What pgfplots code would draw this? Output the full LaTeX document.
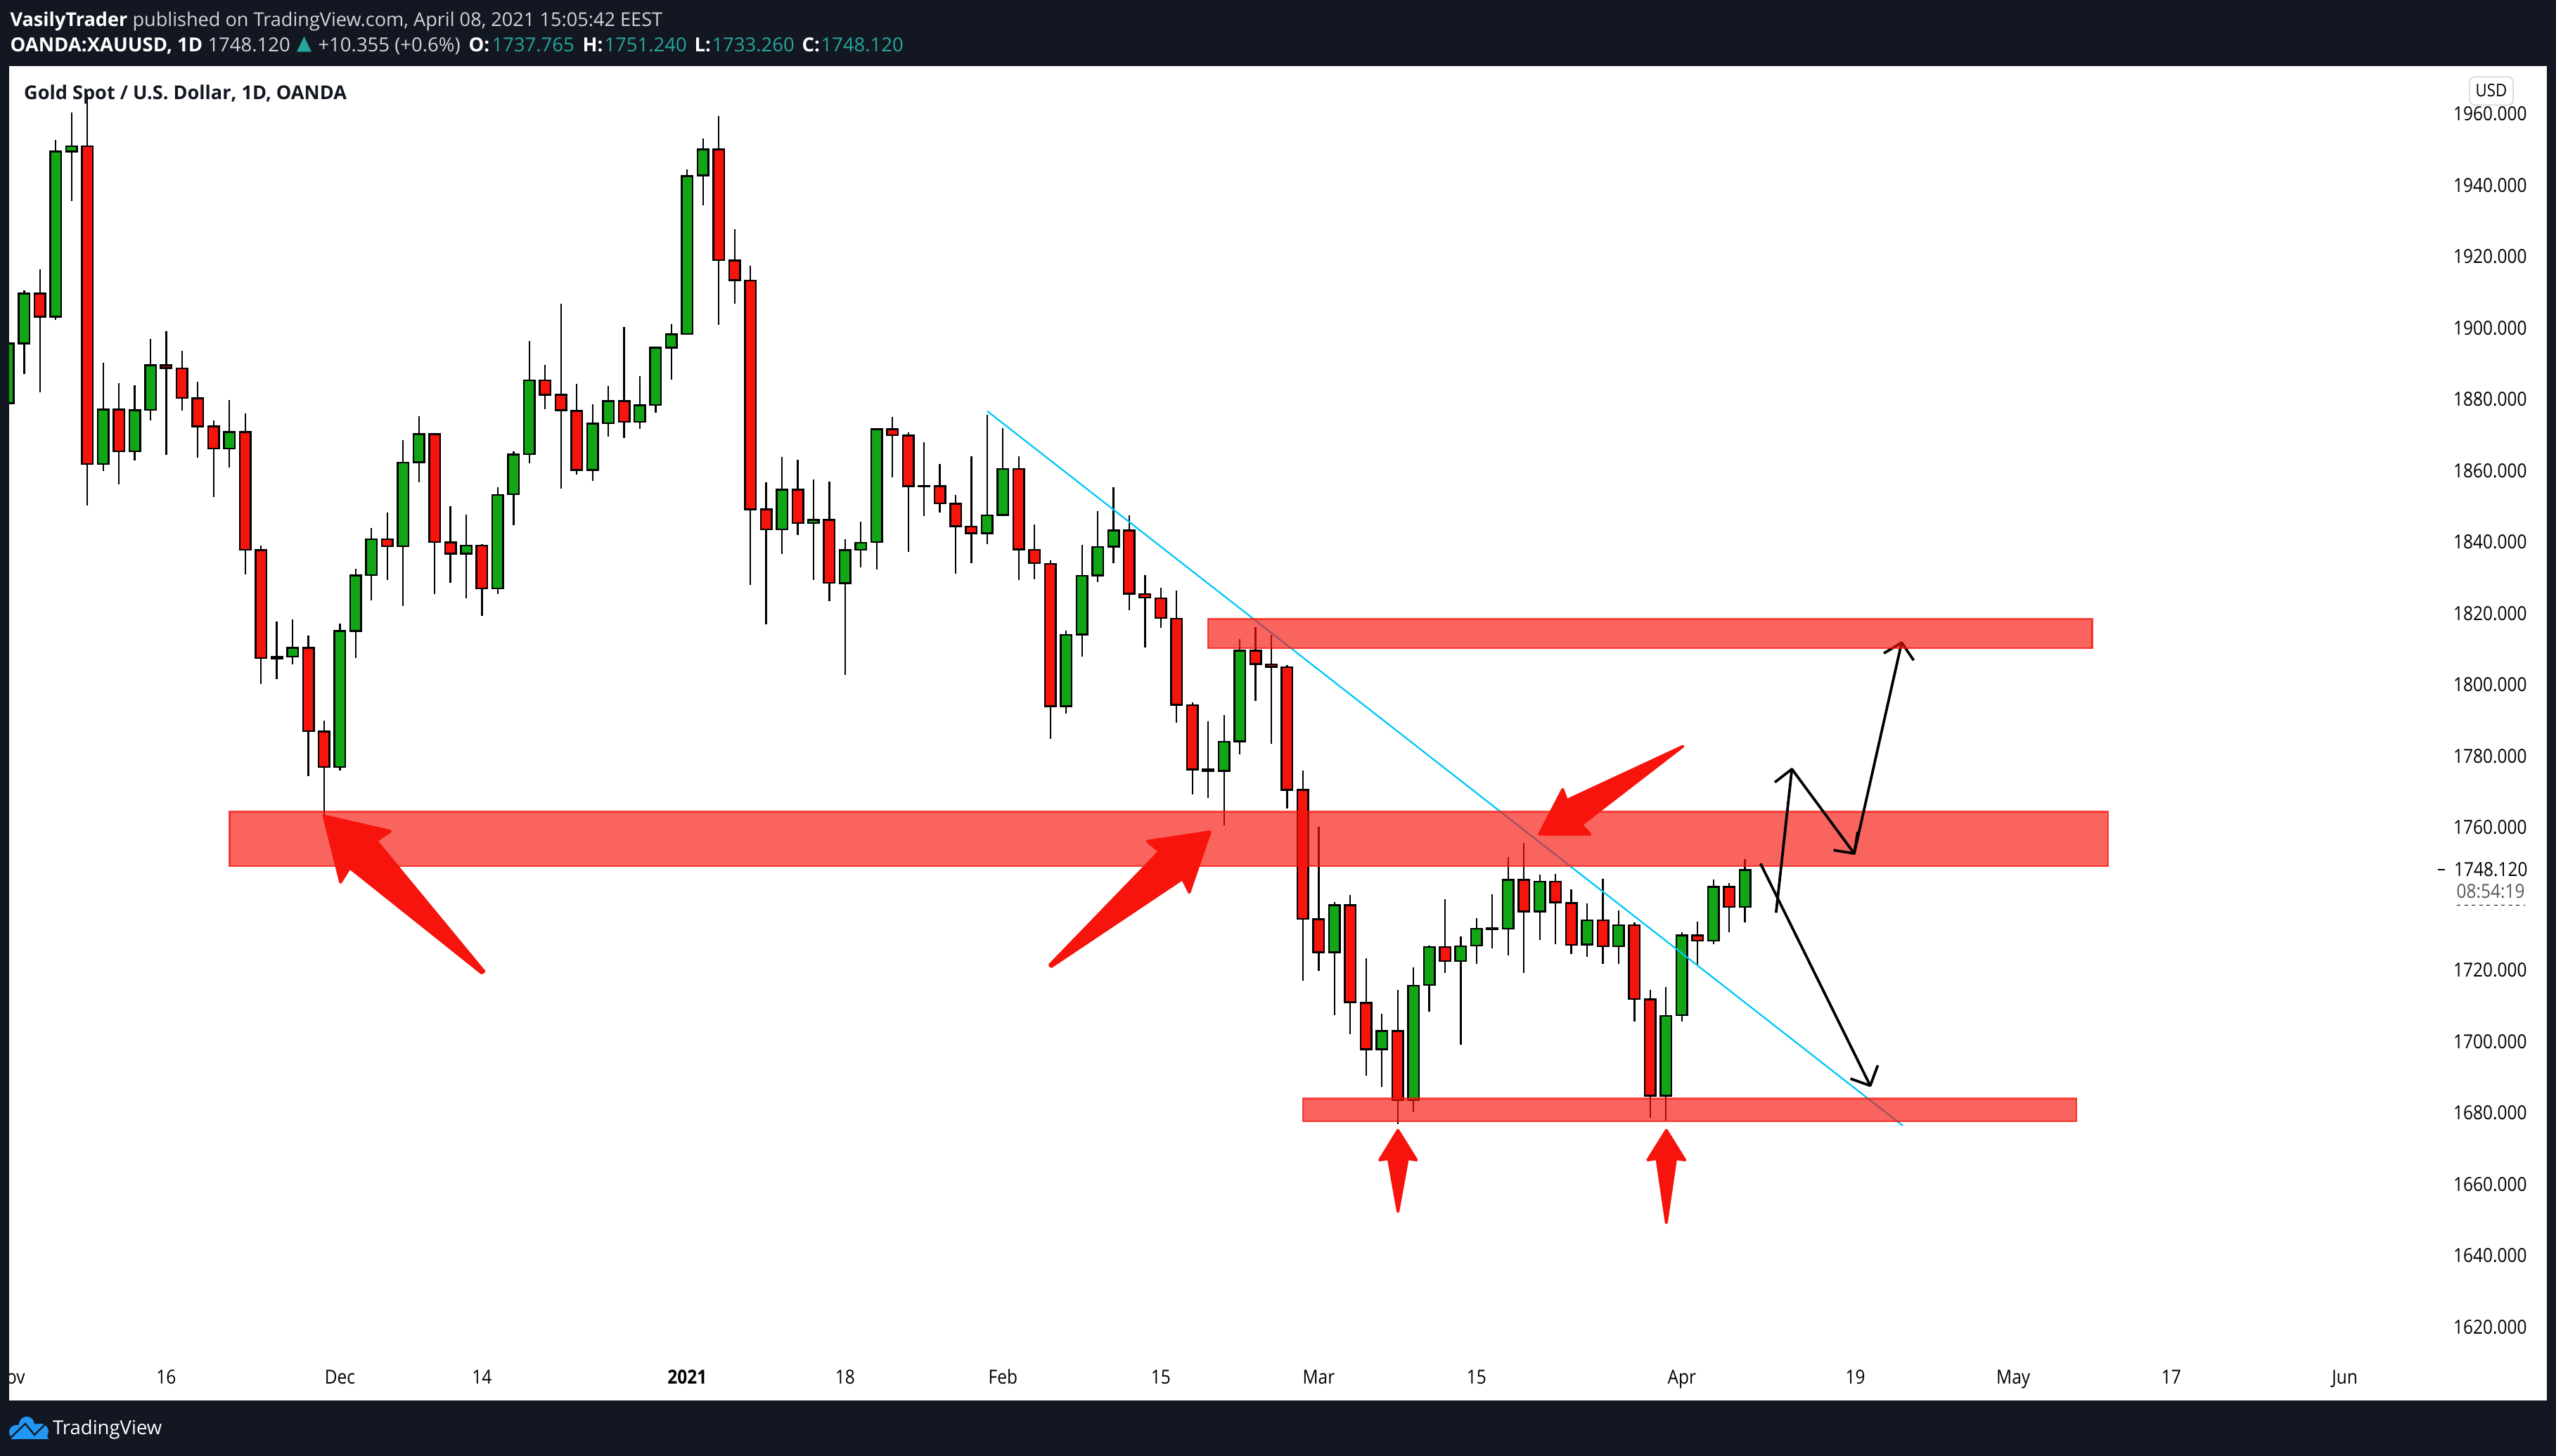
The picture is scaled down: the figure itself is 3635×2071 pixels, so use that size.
\documentclass[border=0pt]{standalone}
\usepackage{fontspec}
\setmainfont{Open Sans}
\newfontfamily\tvfont[FakeStretch=0.89]{Open Sans}
\usepackage{pgfplots}
\usepackage{pgfplotstable}
\pgfplotsset{compat=1.18}
\definecolor{tvnavy}{HTML}{131722}
\definecolor{tvgreen}{HTML}{12A516}
\definecolor{tvred}{HTML}{F6140C}
\definecolor{tvgrey}{HTML}{D1D4DC}
\definecolor{tvteal}{HTML}{26A69A}
\definecolor{tvcyan}{HTML}{00C8F8}
\definecolor{tvblue}{HTML}{2196F3}
\tikzset{px/.style={x=0.4pt,y=-0.4pt,shift={(-5.2pt,796.8pt)}}}
% columns: candle index, body top, body bottom, high, low
\pgfplotstableread{
i top bot high low
-1 1895.7 1878.9 1896.5 1875.0
0 1909.6 1895.7 1910.5 1887.0
2 1949.4 1903.1 1952.7 1902.2
3 1950.9 1949.5 1960.4 1935.6
5 1877.1 1861.9 1890.3 1859.9
7 1876.9 1865.4 1883.9 1862.8
8 1889.5 1877.0 1896.9 1874.1
13 1870.8 1866.2 1879.8 1860.8
17 1810.3 1807.9 1818.4 1805.8
20 1815.1 1776.9 1817.2 1775.9
21 1830.6 1815.1 1832.5 1807.4
22 1840.8 1830.7 1844.0 1823.7
24 1862.3 1838.8 1868.6 1822.1
25 1870.2 1862.4 1875.3 1856.8
28 1839.0 1836.7 1847.7 1824.2
30 1853.2 1827.0 1855.4 1825.5
31 1864.5 1853.4 1865.5 1844.8
32 1885.3 1864.6 1896.4 1862.0
36 1873.2 1860.2 1878.6 1857.1
37 1879.5 1873.3 1883.7 1869.5
39 1878.3 1873.7 1886.5 1871.8
40 1894.5 1878.4 1894.7 1876.2
41 1898.2 1894.5 1901.0 1885.5
42 1942.6 1898.3 1944.4 1898.2
43 1950.0 1942.8 1953.1 1934.3
48 1854.7 1843.5 1863.8 1836.7
50 1846.2 1845.3 1857.5 1829.4
52 1837.7 1828.5 1840.7 1802.8
53 1839.8 1837.8 1845.7 1832.9
54 1871.6 1840.0 1871.8 1832.4
61 1847.5 1842.5 1875.6 1839.4
62 1860.5 1847.6 1871.9 1847.6
66 1814.0 1794.0 1815.1 1791.9
67 1830.5 1814.1 1839.2 1807.8
68 1838.6 1830.6 1848.7 1828.8
69 1843.2 1838.7 1855.4 1834.0
76 1784.0 1775.9 1791.6 1760.6
77 1809.6 1784.1 1812.9 1780.4
83 1738.2 1725.0 1739.1 1707.3
86 1702.9 1697.8 1707.8 1687.2
88 1715.7 1683.6 1720.8 1680.1
89 1726.5 1715.9 1726.9 1708.3
91 1726.7 1722.6 1729.4 1699.2
92 1731.6 1726.9 1734.6 1721.7
94 1745.3 1731.6 1751.7 1724.1
96 1744.8 1736.4 1746.8 1728.4
99 1734.0 1727.2 1738.8 1723.8
101 1732.6 1726.7 1736.8 1721.7
104 1707.2 1684.8 1715.3 1677.8
105 1729.7 1707.4 1730.7 1705.7
107 1743.3 1728.3 1745.5 1727.2
109 1748.1 1737.7 1751.2 1733.3
}\greencandles
\pgfplotstableread{
i top bot high low
1 1909.6 1903.1 1916.4 1881.9
4 1950.9 1861.9 1965.5 1850.3
6 1877.1 1865.4 1884.5 1856.2
9 1889.5 1888.8 1899.1 1864.5
10 1888.7 1880.4 1893.5 1876.9
11 1880.3 1872.4 1884.9 1863.7
12 1872.4 1866.2 1874.0 1852.7
14 1870.8 1837.8 1876.1 1831.0
15 1837.7 1807.5 1839.0 1800.2
16 1807.8 1807.4 1817.7 1801.6
18 1810.3 1787.0 1813.8 1774.3
19 1786.9 1776.9 1789.9 1763.6
23 1840.8 1838.8 1848.3 1829.3
26 1870.2 1840.0 1870.5 1825.5
27 1839.9 1836.7 1850.0 1828.6
29 1839.0 1827.0 1839.5 1819.4
33 1885.3 1881.3 1889.6 1877.3
34 1881.3 1876.9 1906.8 1855.0
35 1876.7 1860.2 1884.3 1859.0
38 1879.5 1873.7 1900.3 1869.2
44 1950.0 1919.0 1959.4 1900.8
45 1918.9 1913.4 1927.7 1906.8
46 1913.3 1849.2 1917.4 1828.0
47 1849.2 1843.5 1856.7 1817.0
49 1854.7 1845.3 1863.0 1842.0
51 1846.2 1828.6 1857.0 1823.4
55 1871.6 1869.9 1875.1 1858.2
56 1869.8 1855.7 1870.7 1837.3
57 1855.8 1855.6 1867.9 1847.2
58 1855.7 1850.8 1861.9 1848.3
59 1850.7 1844.4 1853.2 1831.2
60 1844.3 1842.5 1864.1 1834.0
63 1860.5 1837.9 1864.0 1829.4
64 1837.8 1834.1 1844.9 1829.6
65 1833.9 1794.0 1834.9 1784.9
70 1843.2 1825.5 1847.4 1820.9
71 1825.4 1824.4 1830.7 1810.5
72 1824.2 1818.7 1827.1 1816.0
73 1818.5 1794.4 1826.3 1789.4
74 1794.3 1776.3 1795.0 1769.3
75 1776.2 1775.9 1789.7 1768.3
78 1809.6 1805.8 1816.1 1795.5
79 1805.7 1805.0 1814.0 1783.5
80 1804.9 1770.5 1805.5 1765.4
81 1770.5 1734.4 1776.0 1717.0
82 1734.3 1725.0 1760.1 1719.7
84 1738.2 1711.0 1741.1 1702.0
85 1710.8 1697.8 1723.4 1690.4
87 1702.9 1683.6 1714.5 1676.8
90 1726.5 1722.6 1739.9 1719.3
93 1731.7 1731.5 1741.3 1726.2
95 1745.3 1736.4 1755.7 1719.2
97 1744.8 1739.0 1747.0 1727.2
98 1738.8 1727.1 1742.6 1724.5
100 1734.0 1726.7 1745.6 1721.7
102 1732.6 1711.9 1733.3 1705.7
103 1711.8 1684.8 1714.5 1678.6
106 1729.7 1728.3 1733.6 1721.4
108 1743.3 1737.7 1744.5 1730.6
}\redcandles
% wick, black outline and coloured body of a table of candles
\newcommand{\candles}[2]{%
\addplot[draw=none,mark=none,forget plot,error bars/.cd,y dir=plus,y explicit,error mark=none,
  error bar style={draw=black,line width=0.9pt,line cap=butt}]
  table[x=i,y=low,y error plus expr={\thisrow{high}-\thisrow{low}}] {#1};
\addplot[draw=none,mark=none,forget plot,error bars/.cd,y dir=plus,y explicit,error mark=none,
  error bar style={draw=black,line width=7.2pt,line cap=butt}]
  table[x=i,y expr={\thisrow{bot}-0.25},y error plus expr={\thisrow{top}-\thisrow{bot}+0.5}] {#1};
\addplot[draw=none,mark=none,forget plot,error bars/.cd,y dir=plus,y explicit,error mark=none,
  error bar style={draw=#2,line width=5.2pt,line cap=butt}]
  table[x=i,y expr={\thisrow{bot}+0.25},y error plus expr={max(\thisrow{top}-\thisrow{bot}-0.5,0)}] {#1};
}
% annotation shapes, given in pixels of the reference and turned into index and price
\newcommand{\pxshape}[3]{\addplot[#1] table[x expr={(\thisrowno{0}-34.4)/22.45},y expr={1760-(\thisrowno{1}-1177)/5.075},row sep=\\,header=false] {#2} #3;}
\begin{document}
\begin{tikzpicture}
\begin{scope}[px]
\fill[tvnavy] (0,0) rectangle (3635,2071);
\end{scope}
\begin{axis}[
  at={(0,0)},anchor=south west,
  width=1443.6pt,height=759.2pt,scale only axis,
  xmin=-0.953,xmax=159.8,ymin=1599.4,ymax=1973.4,
  axis background/.style={fill=white},
  axis line style={draw=none},
  major tick length=0pt,tick style={draw=none},
  ytick={1620,1640,1660,1680,1700,1720,1760,1780,1800,1820,1840,1860,1880,1900,1920,1940,1960},
  yticklabel pos=right,
  yticklabel style={anchor=east,inner sep=0pt,xshift=-11.2pt,font=\tvfont\fontsize{11}{13}\selectfont,text=black,
    /pgf/number format/.cd,fixed,fixed zerofill,precision=3,1000 sep={},assume math mode=true},
  xtick={-0.95,9,20,29,42,52,62,72,82,92,105,116,126,136,147},
  xticklabels={Nov,16,Dec,14,\textbf{2021},18,Feb,15,Mar,15,Apr,19,May,17,Jun},
  xticklabel style={anchor=base,inner sep=0pt,yshift=9.6pt,font=\tvfont\fontsize{11}{13}\selectfont,text=black},
]
\candles{\greencandles}{tvgreen}
\candles{\redcandles}{tvred}
% red arrows
\pxshape{fill=tvred,draw=tvred,line join=round,line width=1.6pt}{460.7 1160.7\\555 1182.3\\535 1196\\688.3 1381.7\\685 1384\\497.3 1234.3\\484.3 1255\\}{-- cycle}
\pxshape{fill=tvred,draw=tvred,line join=round,line width=1.6pt}{1720.7 1183.3\\1631.7 1196.7\\1649 1211\\1492.7 1372.7\\1495 1375\\1681.7 1250\\1691.3 1269.3\\}{-- cycle}
\pxshape{fill=tvred,draw=tvred,line join=round,line width=1.6pt}{2393.2 1061.6\\2248.5 1173.2\\2261.2 1186.6\\2189.2 1186.6\\2222.3 1122.8\\2228 1138.4\\}{-- cycle}
\pxshape{fill=tvred,draw=tvred,line join=round,line width=1.6pt}{1988 1607.7\\2014.3 1650\\2001.7 1648\\1988 1723.3\\1974.7 1648\\1962 1650\\}{-- cycle}
\pxshape{fill=tvred,draw=tvred,line join=round,line width=1.6pt}{2369.7 1607.7\\2396 1650\\2383 1648\\2369.7 1739.3\\2356.3 1648\\2343.3 1650\\}{-- cycle}
% trend line
\addplot[tvcyan,line width=0.9pt] coordinates {(61,1876.7) (119,1676.4)};
% supply and demand bands
\addplot[fill=tvred,draw=tvred,fill opacity=0.66,draw opacity=0.75,line width=1pt] coordinates {(13,1764.4) (132,1764.4) (132,1749.2) (13,1749.2)} -- cycle;
\addplot[fill=tvred,draw=tvred,fill opacity=0.66,draw opacity=0.75,line width=1pt] coordinates {(81,1684.0) (130,1684.0) (130,1677.6) (81,1677.6)} -- cycle;
% black projected path
\pxshape{black,line width=1.5pt,line join=round}{2525.7 1298.3\\2548.2 1094\\2636.8 1214\\2704.3 914\\}{}
\pxshape{black,line width=1.5pt,line join=round}{2524 1112.7\\2548.2 1094\\}{}
\pxshape{black,line width=1.5pt,line join=round}{2607.5 1209.3\\2636.8 1214\\2641.8 1183.3\\}{}
\pxshape{black,line width=1.5pt,line join=round}{2679 929.3\\2704.3 914\\2721.4 939.3\\}{}
\pxshape{black,line width=1.5pt,line join=round}{2503.6 1228.3\\2659.6 1544.3\\}{}
\pxshape{black,line width=1.5pt,line join=round}{2631.4 1534.3\\2659.6 1544.3\\2670.4 1515.3\\}{}
\addplot[fill=tvred,draw=tvred,fill opacity=0.66,draw opacity=0.75,line width=1pt] coordinates {(75,1818.4) (131,1818.4) (131,1810.2) (75,1810.2)} -- cycle;
\end{axis}
\begin{scope}[px]
% frame pieces that hide what passes beyond the pane
\fill[tvnavy] (-40,1900) rectangle (13,2000);
% last price
\draw[black,line width=0.7pt] (3467,1237) -- (3477,1237);
\node[anchor=east,inner sep=0pt,text=black,font=\tvfont\fontsize{11}{13}\selectfont] at (3595,1237) {1748.120};
\node[anchor=east,inner sep=0pt,text=black!65,font=\tvfont\fontsize{11}{13}\selectfont] at (3591,1268) {08:54:19};
\draw[black,line width=0.4pt,dash pattern=on 2pt off 2.2pt] (3494,1287.5) -- (3591,1287.5);
\draw[tvgrey,line width=0.6pt,rounded corners=3pt] (3512,109.5) rectangle (3574,149.5);
\node[inner sep=0pt,text=black,font=\tvfont\fontsize{10}{12}\selectfont] at (3543,129) {USD};
% title
\node[anchor=base west,inner sep=0pt,text=tvnavy,font=\fontsize{10.85}{13}\selectfont\bfseries] at (33.7,142) {Gold Spot / U.S. Dollar, 1D, OANDA};
% header
\node[anchor=base west,inner sep=0pt,font=\fontsize{10.85}{13}\selectfont,text=tvgrey] at (14,37.5) {\textcolor{white}{\bfseries VasilyTrader} published on TradingView.com, April 08, 2021 15:05:42 EEST};
\begin{scope}[every node/.style={anchor=base west,inner sep=0pt,font=\fontsize{11}{13}\selectfont}]
\node[text=white,font=\fontsize{11}{13}\selectfont\bfseries] at (14,73.7) {OANDA:XAUUSD, 1D};
\node[text=tvgrey] at (295,73.7) {1748.120};
\fill[tvteal] (422,73.7) -- (443,73.7) -- (432.5,52) -- cycle;
\node[text=tvgrey] at (452,73.7) {+10.355 (+0.6\%)};
\node[text=white,font=\fontsize{11}{13}\selectfont\bfseries] at (666,73.7) {O:};
\node[text=tvteal] at (699,73.7) {1737.765};
\node[text=white,font=\fontsize{11}{13}\selectfont\bfseries] at (828,73.7) {H:};
\node[text=tvteal] at (859,73.7) {1751.240};
\node[text=white,font=\fontsize{11}{13}\selectfont\bfseries] at (987,73.7) {L:};
\node[text=tvteal] at (1012,73.7) {1733.260};
\node[text=white,font=\fontsize{11}{13}\selectfont\bfseries] at (1140,73.7) {C:};
\node[text=tvteal] at (1167,73.7) {1748.120};
\end{scope}
% footer
\fill[tvblue] (38,2026) circle[radius=11];
\fill[tvblue] (23,2037) circle[radius=10];
\fill[tvblue] (58,2036) circle[radius=11];
\fill[tvblue] (14,2047) -- (22,2027) -- (60,2025) -- (69,2047) -- cycle;
\draw[tvnavy,line width=0.9pt] (13,2047) -- (36,2025) -- (49,2041) -- (68,2022);
\node[anchor=base west,inner sep=0pt,text=white,font=\fontsize{11}{13}\selectfont] at (74.6,2041) {TradingView};
\pgfresetboundingbox
\useasboundingbox (0,0) rectangle (3635,2071);
\end{scope}
\end{tikzpicture}
\end{document}
